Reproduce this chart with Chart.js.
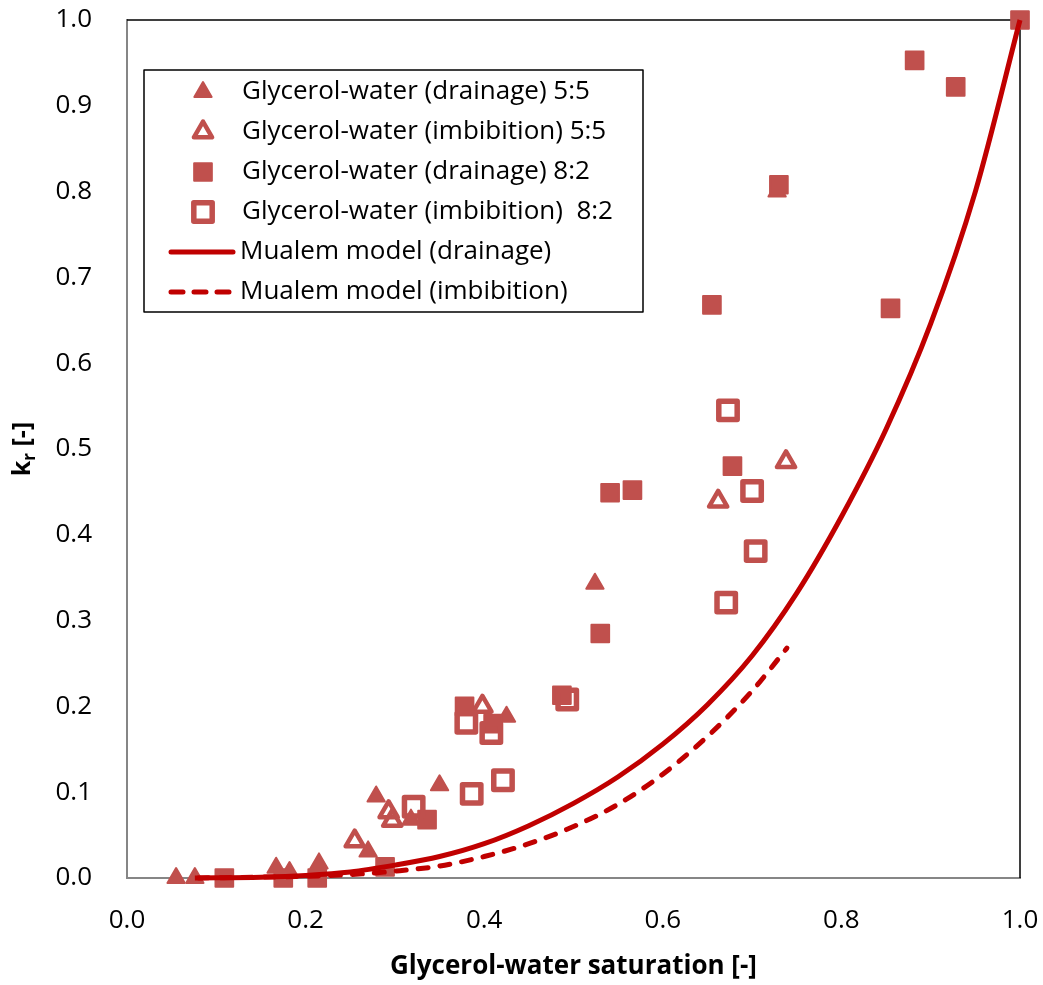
<!DOCTYPE html>
<html>
<head>
<meta charset="utf-8">
<script src="https://cdn.jsdelivr.net/npm/chart.js@4.4.0/dist/chart.umd.min.js"></script>
<style>
  html, body { margin: 0; padding: 0; background: #fff; }
</style>
</head>
<body>
<canvas id="myChart" width="1043" height="985"></canvas>
<script>
// Glycerol-water (drainage) 5:5 - filled triangles
const drain55X = [0.055, 0.076, 0.167, 0.182, 0.215, 0.270, 0.279, 0.318, 0.350, 0.425, 0.524, 0.728];
const drain55Y = [0.000, 0.000, 0.012, 0.007, 0.017, 0.031, 0.095, 0.068, 0.108, 0.188, 0.343, 0.800];

// Glycerol-water (imbibition) 5:5 - open triangles
const imb55X = [0.255, 0.293, 0.297, 0.398, 0.662, 0.738];
const imb55Y = [0.043, 0.077, 0.067, 0.200, 0.439, 0.485];

// Glycerol-water (drainage) 8:2 - filled squares
const drain82X = [0.109, 0.175, 0.213, 0.289, 0.336, 0.378, 0.410, 0.487, 0.530, 0.541, 0.566, 0.655, 0.678, 0.730, 0.855, 0.882, 0.928, 1.000];
const drain82Y = [0.000, 0.000, 0.000, 0.013, 0.068, 0.200, 0.180, 0.213, 0.285, 0.449, 0.452, 0.668, 0.480, 0.808, 0.664, 0.953, 0.922, 1.000];

// Glycerol-water (imbibition) 8:2 - open squares
const imb82X = [0.321, 0.380, 0.386, 0.408, 0.421, 0.493, 0.671, 0.673, 0.700, 0.704];
const imb82Y = [0.083, 0.181, 0.098, 0.169, 0.114, 0.208, 0.321, 0.545, 0.451, 0.381];

// Mualem model curves
const mualemDrainX = [0.076, 0.150, 0.200, 0.250, 0.300, 0.350, 0.400, 0.450, 0.500, 0.550, 0.600, 0.650, 0.700, 0.750, 0.800, 0.850, 0.900, 0.950, 1.000];
const mualemDrainY = [0.000, 0.001, 0.003, 0.007, 0.015, 0.025, 0.040, 0.061, 0.087, 0.118, 0.156, 0.202, 0.259, 0.332, 0.421, 0.523, 0.646, 0.800, 1.000];
const mualemImbX = [0.080, 0.150, 0.200, 0.250, 0.300, 0.350, 0.400, 0.450, 0.500, 0.550, 0.600, 0.650, 0.700, 0.739];
const mualemImbY = [0.000, 0.001, 0.002, 0.004, 0.008, 0.014, 0.025, 0.040, 0.060, 0.086, 0.121, 0.165, 0.218, 0.268];

const xTicks = [0, 0.2, 0.4, 0.6, 0.8, 1.0];
const yTicks = [0, 0.1, 0.2, 0.3, 0.4, 0.5, 0.6, 0.7, 0.8, 0.9, 1.0];

const legendLabels = [
    "Glycerol-water (drainage) 5:5",
    "Glycerol-water (imbibition) 5:5",
    "Glycerol-water (drainage) 8:2",
    "Glycerol-water (imbibition)  8:2",
    "Mualem model (drainage)",
    "Mualem model (imbibition)"
];

const markerColor = '#C0504D';
const lineColor = '#C00000';
const fontFamily = "'Open Sans', sans-serif";

function toPoints(xs, ys) {
    const pts = [];
    for (let i = 0; i < xs.length; i++) {
        pts.push({ x: xs[i], y: ys[i] });
    }
    return pts;
}

// draws a marker the same way the chart does, for the legend
function drawMarker(ctx, kind, x, y) {
    ctx.save();
    ctx.lineJoin = 'round';
    ctx.strokeStyle = markerColor;
    ctx.fillStyle = markerColor;
    ctx.beginPath();
    if (kind === 'tri' || kind === 'triOpen') {
        const r = kind === 'tri' ? 10 : 10.5;
        let rad = 0;
        ctx.moveTo(x + Math.sin(rad) * r, y - Math.cos(rad) * r);
        rad += 2 * Math.PI / 3;
        ctx.lineTo(x + Math.sin(rad) * r, y - Math.cos(rad) * r);
        rad += 2 * Math.PI / 3;
        ctx.lineTo(x + Math.sin(rad) * r, y - Math.cos(rad) * r);
        ctx.closePath();
        if (kind === 'tri') { ctx.lineWidth = 2; ctx.fill(); ctx.stroke(); }
        else { ctx.lineWidth = 4.5; ctx.stroke(); }
    } else {
        const r = kind === 'sq' ? 12.5 : 13;
        const s = Math.SQRT1_2 * r;
        ctx.rect(x - s, y - s, 2 * s, 2 * s);
        if (kind === 'sq') { ctx.lineWidth = 2; ctx.fill(); ctx.stroke(); }
        else { ctx.lineWidth = 5.5; ctx.stroke(); }
    }
    ctx.restore();
}

const framePlugin = {
    id: 'frame',
    beforeDatasetsDraw(chart) {
        const { ctx, chartArea: a } = chart;
        ctx.save();
        ctx.strokeStyle = '#000';
        ctx.lineWidth = 1.5;
        ctx.beginPath();
        ctx.moveTo(a.left, a.top);
        ctx.lineTo(a.right, a.top);
        ctx.lineTo(a.right, a.bottom);
        ctx.stroke();
        ctx.restore();
        ctx.lineJoin = 'round';
    },
    beforeDatasetDraw(chart) {
        chart.ctx.lineJoin = 'round';
    }
};

const legendPlugin = {
    id: 'boxLegend',
    afterDraw(chart) {
        const ctx = chart.ctx;
        ctx.save();
        ctx.fillStyle = '#fff';
        ctx.fillRect(144, 70, 499, 242);
        ctx.strokeStyle = '#000';
        ctx.lineWidth = 1.5;
        ctx.strokeRect(144, 70, 499, 242);

        const kinds = ['tri', 'triOpen', 'sq', 'sqOpen', 'line', 'dash'];
        for (let i = 0; i < legendLabels.length; i++) {
            const y = 92 + i * 40;
            const k = kinds[i];
            if (k === 'line' || k === 'dash') {
                ctx.save();
                ctx.strokeStyle = lineColor;
                ctx.lineWidth = 5;
                ctx.lineCap = 'round';
                if (k === 'dash') ctx.setLineDash([12, 11]);
                ctx.beginPath();
                ctx.moveTo(171, y);
                ctx.lineTo(233, y);
                ctx.stroke();
                ctx.restore();
            } else {
                drawMarker(ctx, k, 203, y);
            }
            ctx.fillStyle = '#000';
            ctx.font = "26px " + fontFamily;
            ctx.textBaseline = 'middle';
            ctx.textAlign = 'left';
            ctx.fillText(legendLabels[i], k === 'line' || k === 'dash' ? 240 : 242, y);
        }
        ctx.restore();
    }
};

const yTitlePlugin = {
    id: 'yTitle',
    afterDraw(chart) {
        const ctx = chart.ctx;
        ctx.save();
        ctx.translate(23, 449);
        ctx.rotate(-Math.PI / 2);
        ctx.fillStyle = '#000';
        ctx.textBaseline = 'middle';
        const big = "bold 25px " + fontFamily;
        const small = "bold 17px " + fontFamily;
        ctx.font = big;
        const wk = ctx.measureText('k').width;
        const wRest = ctx.measureText(' [-]').width;
        ctx.font = small;
        const wr = ctx.measureText('r').width;
        let x = -(wk + wr + wRest) / 2;
        ctx.font = big;
        ctx.fillText('k', x, 0);
        x += wk;
        ctx.font = small;
        ctx.fillText('r', x, 7);
        x += wr;
        ctx.font = big;
        ctx.fillText(' [-]', x, 0);
        ctx.restore();
    }
};

const scatterBase = { type: 'scatter', showLine: false, clip: false };

const datasets = [
    {
        label: legendLabels[4],
        data: toPoints(mualemDrainX, mualemDrainY),
        type: 'scatter', showLine: true, clip: false,
        borderColor: lineColor, borderWidth: 5,
        pointRadius: 0, cubicInterpolationMode: 'monotone',
        order: 0
    },
    {
        label: legendLabels[5],
        data: toPoints(mualemImbX, mualemImbY),
        type: 'scatter', showLine: true, clip: false,
        borderColor: lineColor, borderWidth: 5,
        borderDash: [10, 12], borderCapStyle: 'round',
        pointRadius: 0, cubicInterpolationMode: 'monotone',
        order: 1
    },
    Object.assign({}, scatterBase, {
        label: legendLabels[3],
        data: toPoints(imb82X, imb82Y),
        pointStyle: 'rect', pointRadius: 13, pointBorderWidth: 5.5,
        pointBackgroundColor: 'rgba(0,0,0,0)', pointBorderColor: markerColor,
        order: 2
    }),
    Object.assign({}, scatterBase, {
        label: legendLabels[2],
        data: toPoints(drain82X, drain82Y),
        pointStyle: 'rect', pointRadius: 12.5, pointBorderWidth: 2,
        pointBackgroundColor: markerColor, pointBorderColor: markerColor,
        order: 3
    }),
    Object.assign({}, scatterBase, {
        label: legendLabels[1],
        data: toPoints(imb55X, imb55Y),
        pointStyle: 'triangle', pointRadius: 10.5, pointBorderWidth: 4.5,
        pointBackgroundColor: 'rgba(0,0,0,0)', pointBorderColor: markerColor,
        order: 4
    }),
    Object.assign({}, scatterBase, {
        label: legendLabels[0],
        data: toPoints(drain55X, drain55Y),
        pointStyle: 'triangle', pointRadius: 10, pointBorderWidth: 2,
        pointBackgroundColor: markerColor, pointBorderColor: markerColor,
        order: 5
    })
];

const tickFont = { family: fontFamily, size: 26 };

const myChart = new Chart(document.getElementById('myChart'), {
    type: 'scatter',
    data: { datasets: datasets },
    options: {
        responsive: false,
        animation: false,
        events: [],
        layout: { padding: { top: 20, right: 23, left: 0, bottom: 0 } },
        plugins: {
            legend: { display: false },
            tooltip: { enabled: false }
        },
        scales: {
            x: {
                type: 'linear',
                min: 0, max: 1,
                afterBuildTicks: s => { s.ticks = xTicks.map(v => ({ value: v })); },
                afterFit: s => {
                    s.height = 107;
                    s.paddingLeft = 0; s.paddingRight = 0;
                },
                ticks: {
                    callback: v => v.toFixed(1),
                    font: tickFont, color: '#000', padding: 27
                },
                grid: { display: false, drawTicks: false },
                border: { display: true, color: '#868686', width: 2 },
                title: {
                    display: true,
                    text: 'Glycerol-water saturation [-]',
                    font: { family: fontFamily, size: 26, weight: 'bold' },
                    color: '#000',
                    padding: { top: 0, bottom: 3 }
                }
            },
            y: {
                type: 'linear',
                min: 0, max: 1,
                afterBuildTicks: s => { s.ticks = yTicks.map(v => ({ value: v })); },
                afterFit: s => {
                    s.width = 127;
                    s.paddingTop = 0; s.paddingBottom = 0;
                },
                ticks: {
                    callback: v => v.toFixed(1),
                    font: tickFont, color: '#000', padding: 35
                },
                grid: { display: false, drawTicks: false },
                border: { display: true, color: '#868686', width: 2 }
            }
        }
    },
    plugins: [framePlugin, legendPlugin, yTitlePlugin]
});
</script>
</body>
</html>
